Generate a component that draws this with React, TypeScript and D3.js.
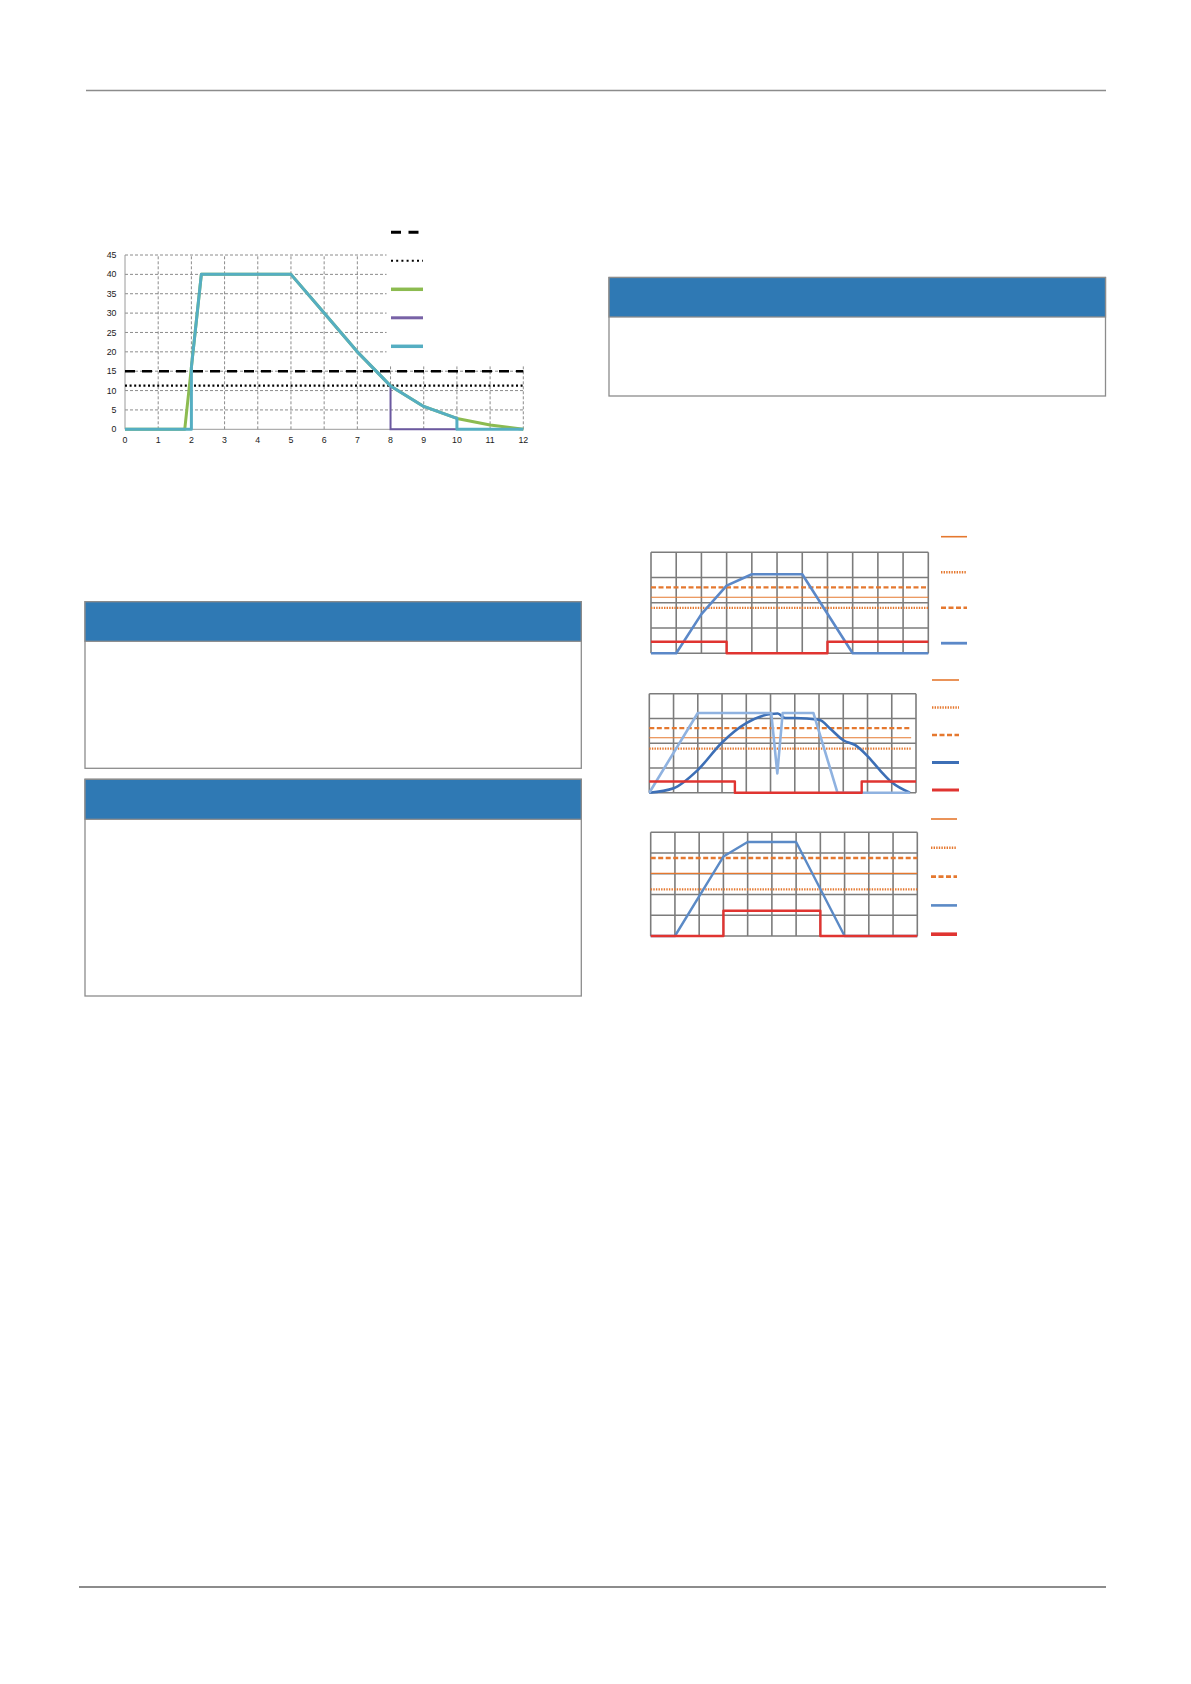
import * as d3 from 'd3'
import * as React from 'react'

//------------------------------data------------------------------
// left chart (0..12 on x, 0..45 on y)
const LEFT_X_TICKS = [0, 1, 2, 3, 4, 5, 6, 7, 8, 9, 10, 11, 12]
const LEFT_Y_TICKS = [0, 5, 10, 15, 20, 25, 30, 35, 40, 45]
const LEFT_DASHED_LIMIT = 15
const LEFT_DOTTED_LIMIT = 11.3
const GREEN_X = [0, 1.8, 2.3, 5, 6, 7, 8, 9, 10, 11, 12]
const GREEN_Y = [0, 0, 40, 40, 30, 20, 11.2, 5.9, 2.8, 1.1, 0]
const PURPLE_X = [8, 8, 10]
const PURPLE_Y = [11.2, 0, 0]
const TEAL_X = [0, 2, 2, 2.3, 5, 6, 7, 8, 9, 10, 10, 12]
const TEAL_Y = [0, 0, 16, 40, 40, 30, 20, 11.2, 5.9, 2.8, 0, 0]

// right charts, values in grid units
const A_LIMITS = { solid: 2.22, dashed: 2.61, dotted: 1.8 }
const A_BLUE_X = [0, 1, 2, 3, 4, 6, 8, 11]
const A_BLUE_Y = [0, 0, 1.55, 2.68, 3.13, 3.13, 0, 0]
const A_RED_X = [0, 3, 3, 7, 7, 11]
const A_RED_Y = [0.46, 0.46, 0, 0, 0.46, 0.46]

const B_LIMITS = { solid: 2.22, dashed: 2.61, dotted: 1.78 }
const B_DARK_X = [0, 1, 2, 3, 4, 5, 5.3, 5.6, 6, 7, 7.5, 8, 8.5, 9, 9.5, 10, 10.75]
const B_DARK_Y = [0, 0.18, 0.92, 2.03, 2.81, 3.18, 3.2, 3.02, 3.02, 2.95, 2.55, 2.12, 1.92, 1.48, 0.92, 0.42, 0]
const B_LIGHT_X = [0, 2, 5.03, 5.28, 5.5, 6.77, 7.76, 10.75]
const B_LIGHT_Y = [0, 3.22, 3.22, 0.78, 3.22, 3.22, 0, 0]
const B_RED_X = [0, 3.53, 3.53, 8.76, 8.76, 11]
const B_RED_Y = [0.45, 0.45, 0, 0, 0.45, 0.45]

const C_LIMITS = { solid: 3.02, dashed: 3.76, dotted: 2.25 }
const C_BLUE_X = [0, 1, 3, 4, 6, 8, 11]
const C_BLUE_Y = [0, 0, 3.83, 4.53, 4.53, 0, 0]
const C_RED_X = [0, 3, 3, 7, 7, 11]
const C_RED_Y = [0, 0, 1.22, 1.22, 0, 0]

//------------------------------styles------------------------------
const WIDTH = 1191
const HEIGHT = 1684
const BOX_BLUE = '#2f79b4'
const BOX_BORDER = '#8c8c8c'
const ORANGE = '#e5782f'
const RED = '#e03431'
const GRID = '#7c7c7c'

type Pt = [number, number]
const zip = (xs: number[], ys: number[]): Pt[] => xs.map((x, i) => [x, ys[i]])

//------------------------------left chart------------------------------
const LeftChart = () => {
  const x = d3.scaleLinear().domain([0, 12]).range([125, 523.3])
  const y = d3.scaleLinear().domain([0, 45]).range([429.3, 255])
  const line = d3
    .line<Pt>()
    .x(d => x(d[0]))
    .y(d => y(d[1]))
  const legendX = 391
  const legendW = 32
  const legendTop = 232.3
  const legendStep = 28.5
  const legend = [
    { stroke: '#000', w: 3, dash: '10,7.5' },
    { stroke: '#000', w: 2, dash: '2,3.2' },
    { stroke: '#8cbb50', w: 3.5, dash: undefined },
    { stroke: '#7862a6', w: 3, dash: undefined },
    { stroke: '#55aec2', w: 3.5, dash: undefined }
  ]
  return (
    <g>
      {/* grid */}
      {LEFT_X_TICKS.slice(1).map(t => (
        <line key={'gx' + t} x1={x(t)} x2={x(t)} y1={y(0)} y2={y(45)}
          stroke="#6f6f6f" strokeWidth={0.8} strokeDasharray="3,2" />
      ))}
      {LEFT_Y_TICKS.slice(1).map(t => (
        <line key={'gy' + t} x1={x(0)} x2={x(12)} y1={y(t)} y2={y(t)}
          stroke="#6f6f6f" strokeWidth={0.8} strokeDasharray="3,2" />
      ))}
      <line x1={x(0)} x2={x(0)} y1={y(0)} y2={y(45)} stroke="#9a9a9a" strokeWidth={1} />
      <line x1={x(0)} x2={x(12)} y1={y(0)} y2={y(0)} stroke="#9a9a9a" strokeWidth={1} />
      {/* legend panel covering the top right of the plot */}
      <rect x={x(7.88)} y={215} width={150} height={y(16.3) - 215} fill="#fff" />
      {legend.map((l, i) => (
        <line key={'lg' + i} x1={legendX} x2={legendX + legendW}
          y1={legendTop + i * legendStep} y2={legendTop + i * legendStep}
          stroke={l.stroke} strokeWidth={l.w} strokeDasharray={l.dash} />
      ))}
      {/* limit lines */}
      <line x1={x(0)} x2={x(12)} y1={y(LEFT_DASHED_LIMIT)} y2={y(LEFT_DASHED_LIMIT)}
        stroke="#000" strokeWidth={2.6} strokeDasharray="10,7" />
      <line x1={x(0)} x2={x(12)} y1={y(LEFT_DOTTED_LIMIT)} y2={y(LEFT_DOTTED_LIMIT)}
        stroke="#000" strokeWidth={2.2} strokeDasharray="2,2.6" />
      {/* series */}
      <path d={line(zip(GREEN_X, GREEN_Y)) || ''} fill="none" stroke="#8cbb50" strokeWidth={3} strokeLinejoin="round" />
      <path d={line(zip(PURPLE_X, PURPLE_Y)) || ''} fill="none" stroke="#6b59a0" strokeWidth={2} />
      <path d={line(zip(TEAL_X, TEAL_Y)) || ''} fill="none" stroke="#55aec2" strokeWidth={3} strokeLinejoin="round" />
      {/* ticks */}
      {LEFT_Y_TICKS.map(t => (
        <text key={'ty' + t} x={116.5} y={y(t)} dy="0.35em" textAnchor="end"
          fontSize={8.8} fontFamily="Liberation Sans, Arial, sans-serif" fill="#1a1a1a">{t}</text>
      ))}
      {LEFT_X_TICKS.map(t => (
        <text key={'tx' + t} x={x(t)} y={440} dy="0.35em" textAnchor="middle"
          fontSize={8.8} fontFamily="Liberation Sans, Arial, sans-serif" fill="#1a1a1a">{t}</text>
      ))}
    </g>
  )
}

//------------------------------right charts------------------------------
interface SeriesDef {
  xs: number[]
  ys: number[]
  stroke: string
  w: number
  smooth?: boolean
}
interface LegendDef {
  stroke: string
  w: number
  dash?: string
}
interface SmallChartProps {
  left: number
  right: number
  top: number
  bottom: number
  rows: number
  limits: { solid: number; dashed: number; dotted: number }
  limitEnd: number
  series: SeriesDef[]
  legendX: number
  legendW: number
  legendTop: number
  legendStep: number
  legend: LegendDef[]
}

const COLS = [0, 1, 2, 3, 4, 5, 6, 7, 8, 9, 10, 11]

const SmallChart = (p: SmallChartProps) => {
  const x = d3.scaleLinear().domain([0, 11]).range([p.left, p.right])
  const y = d3.scaleLinear().domain([0, p.rows]).range([p.bottom, p.top])
  const line = d3
    .line<Pt>()
    .x(d => x(d[0]))
    .y(d => y(d[1]))
  const smoothLine = d3
    .line<Pt>()
    .x(d => x(d[0]))
    .y(d => y(d[1]))
    .curve(d3.curveMonotoneX)
  const rows = d3.range(p.rows + 1)
  return (
    <g>
      {COLS.map(c => (
        <line key={'c' + c} x1={x(c)} x2={x(c)} y1={y(0)} y2={y(p.rows)} stroke={GRID} strokeWidth={1.6} />
      ))}
      {rows.map(r => (
        <line key={'r' + r} x1={x(0)} x2={x(11)} y1={y(r)} y2={y(r)} stroke={GRID} strokeWidth={1.6} />
      ))}
      <line x1={x(0)} x2={x(p.limitEnd)} y1={y(p.limits.dashed)} y2={y(p.limits.dashed)}
        stroke={ORANGE} strokeWidth={2.4} strokeDasharray="5,2.5" />
      <line x1={x(0)} x2={x(p.limitEnd)} y1={y(p.limits.solid)} y2={y(p.limits.solid)}
        stroke={ORANGE} strokeWidth={1.2} />
      <line x1={x(0)} x2={x(p.limitEnd)} y1={y(p.limits.dotted)} y2={y(p.limits.dotted)}
        stroke={ORANGE} strokeWidth={2.2} strokeDasharray="1.4,1.2" />
      {p.series.map((s, i) => (
        <path key={'s' + i} d={(s.smooth ? smoothLine : line)(zip(s.xs, s.ys)) || ''} fill="none"
          stroke={s.stroke} strokeWidth={s.w} strokeLinejoin="round" />
      ))}
      {p.legend.map((l, i) => (
        <line key={'l' + i} x1={p.legendX} x2={p.legendX + p.legendW}
          y1={p.legendTop + i * p.legendStep} y2={p.legendTop + i * p.legendStep}
          stroke={l.stroke} strokeWidth={l.w} strokeDasharray={l.dash} />
      ))}
    </g>
  )
}

//------------------------------boxes------------------------------
const Box = ({ x0, x1, y0, yh, y1 }: { x0: number; x1: number; y0: number; yh: number; y1: number }) => (
  <g>
    <rect x={x0} y={y0} width={x1 - x0} height={y1 - y0} fill="#fff" stroke={BOX_BORDER} strokeWidth={1.3} />
    <rect x={x0} y={y0} width={x1 - x0} height={yh - y0} fill={BOX_BLUE} stroke={BOX_BORDER} strokeWidth={1.3} />
  </g>
)

//------------------------------App------------------------------
export default function App() {
  const legendLimits: LegendDef[] = [
    { stroke: ORANGE, w: 1.6 },
    { stroke: ORANGE, w: 2.4, dash: '1.4,1.2' },
    { stroke: ORANGE, w: 2.6, dash: '5,2.5' }
  ]
  return (
    <div style={{ position: 'absolute', left: 0, top: 0 }}>
      <svg width={WIDTH} height={HEIGHT} style={{ display: 'block', background: '#fff' }}>
        <line x1={86} x2={1106} y1={90.5} y2={90.5} stroke="#8c8c8c" strokeWidth={1.4} />
        <line x1={79} x2={1106} y1={1587} y2={1587} stroke="#8c8c8c" strokeWidth={1.8} />

        <LeftChart />

        <Box x0={609} x1={1105.5} y0={277.5} yh={317} y1={396} />
        <Box x0={85} x1={581.3} y0={601.7} yh={641.3} y1={768.3} />
        <Box x0={85} x1={581.3} y0={779.3} yh={819.3} y1={996} />

        <SmallChart
          left={651} right={928.3} top={552.3} bottom={653.3} rows={4}
          limits={A_LIMITS} limitEnd={11}
          series={[
            { xs: A_BLUE_X, ys: A_BLUE_Y, stroke: '#5b88c8', w: 2.6 },
            { xs: A_RED_X, ys: A_RED_Y, stroke: RED, w: 2.4 }
          ]}
          legendX={941} legendW={26} legendTop={536.7} legendStep={35.5}
          legend={[...legendLimits, { stroke: '#5b88c8', w: 2.8 }]}
        />
        <SmallChart
          left={649.3} right={916} top={693.7} bottom={792.7} rows={4}
          limits={B_LIMITS} limitEnd={10.8}
          series={[
            { xs: B_DARK_X, ys: B_DARK_Y, stroke: '#3d6fb6', w: 2.6, smooth: true },
            { xs: B_LIGHT_X, ys: B_LIGHT_Y, stroke: '#8fb2e0', w: 2.6 },
            { xs: B_RED_X, ys: B_RED_Y, stroke: RED, w: 2.4 }
          ]}
          legendX={932} legendW={27} legendTop={680} legendStep={27.5}
          legend={[...legendLimits, { stroke: '#3d6fb6', w: 3 }, { stroke: RED, w: 3 }]}
        />
        <SmallChart
          left={650.7} right={917.3} top={832.3} bottom={936} rows={5}
          limits={C_LIMITS} limitEnd={11}
          series={[
            { xs: C_BLUE_X, ys: C_BLUE_Y, stroke: '#5b8ac6', w: 2.4 },
            { xs: C_RED_X, ys: C_RED_Y, stroke: RED, w: 2.4 }
          ]}
          legendX={931} legendW={26} legendTop={819} legendStep={28.8}
          legend={[...legendLimits, { stroke: '#5b8ac6', w: 2.6 }, { stroke: RED, w: 3.6 }]}
        />
      </svg>
    </div>
  )
}
